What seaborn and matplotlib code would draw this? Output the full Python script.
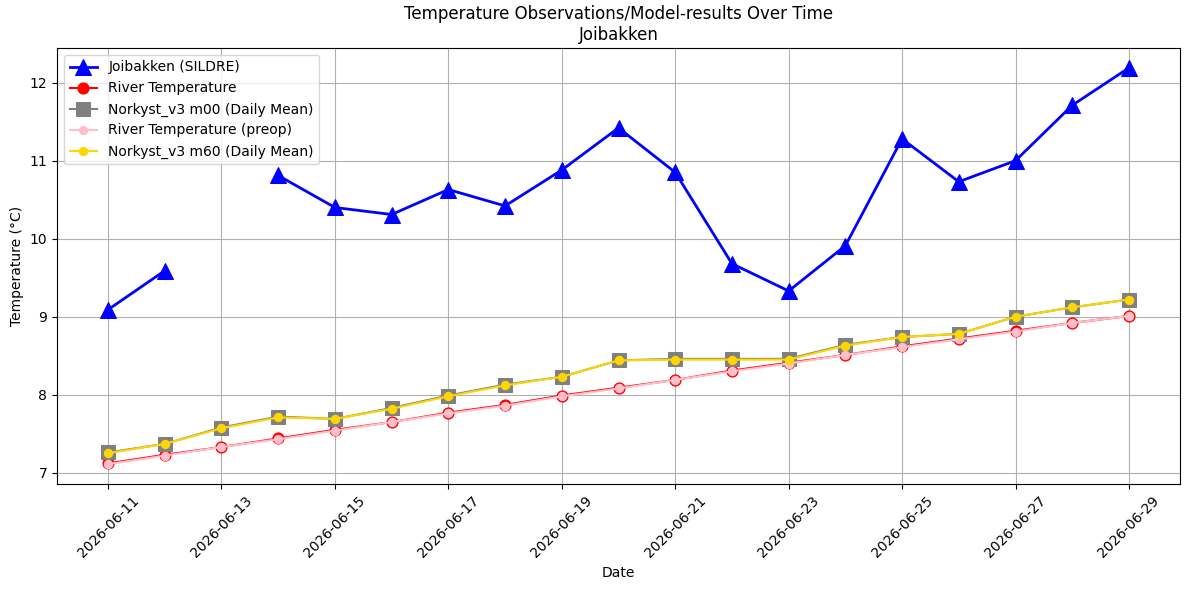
import numpy as np
import pandas as pd
import matplotlib
matplotlib.use("Agg")
import matplotlib.pyplot as plt
import matplotlib.dates as mdates
import seaborn as sns

dates = pd.date_range("2026-06-11", "2026-06-29", freq="D")
sildre = [9.09, 9.59, np.nan, 10.81, 10.40, 10.31, 10.63, 10.42, 10.88, 11.42,
          10.85, 9.68, 9.33, 9.91, 11.28, 10.73, 11.00, 11.71, 12.19]
river = [7.12, 7.23, 7.33, 7.44, 7.55, 7.65, 7.77, 7.87, 7.99, 8.09,
         8.19, 8.31, 8.41, 8.51, 8.62, 8.72, 8.82, 8.92, 9.01]
river_preop = [7.11, 7.22, 7.33, 7.43, 7.54, 7.65, 7.76, 7.86, 7.98, 8.08,
               8.19, 8.30, 8.40, 8.51, 8.61, 8.71, 8.81, 8.92, 9.01]
m00 = [7.26, 7.37, 7.58, 7.72, 7.69, 7.83, 7.99, 8.13, 8.23, 8.44,
       8.46, 8.46, 8.46, 8.64, 8.74, 8.78, 9.00, 9.12, 9.22]
m60 = [7.25, 7.37, 7.57, 7.71, 7.69, 7.82, 7.98, 8.12, 8.23, 8.44,
       8.45, 8.45, 8.45, 8.63, 8.74, 8.78, 9.00, 9.12, 9.22]

plt.style.use("default")
plt.rcParams['font.family'] = ['DejaVu Sans']

fig, ax = plt.subplots(figsize=(11.89, 5.9), dpi=100)
fig.subplots_adjust(left=57/1189, right=1180/1189, top=1-48/590, bottom=1-484/590)

df = pd.DataFrame({"date": dates, "sildre": sildre, "river": river,
                   "preop": river_preop, "m00": m00, "m60": m60})

# SILDRE in segments to keep gap
valid = df["sildre"].notna()
seg = (~valid).cumsum()
first = True
for _, g in df[valid].groupby(seg[valid]):
    sns.lineplot(data=g, x="date", y="sildre", ax=ax, color="blue", marker="^",
                 markersize=12, linewidth=2, markeredgecolor="blue",
                 label="Joibakken (SILDRE)" if first else None,
                 estimator=None, sort=False)
    first = False

sns.lineplot(data=df, x="date", y="river", ax=ax, color="red", marker="o",
             markersize=8, linewidth=1.5, markeredgecolor="red",
             label="River Temperature", estimator=None)
sns.lineplot(data=df, x="date", y="m00", ax=ax, color="gray", marker="s",
             markersize=10, linewidth=1.5, markeredgecolor="gray",
             label="Norkyst_v3 m00 (Daily Mean)", estimator=None)
sns.lineplot(data=df, x="date", y="preop", ax=ax, color="pink", marker="o",
             markersize=6, linewidth=1.5, markeredgecolor="pink",
             label="River Temperature (preop)", estimator=None)
sns.lineplot(data=df, x="date", y="m60", ax=ax, color="gold", marker="o",
             markersize=6, linewidth=1.5, markeredgecolor="gold",
             label="Norkyst_v3 m60 (Daily Mean)", estimator=None)

ax.set_title("Temperature Observations/Model-results Over Time\nJoibakken")
ax.set_xlabel("Date")
ax.set_ylabel("Temperature (°C)")
ax.set_xticks(dates[::2])
ax.xaxis.set_major_formatter(mdates.DateFormatter("%Y-%m-%d"))
ax.tick_params(axis="x", rotation=45)
ax.grid(True)
ax.legend(loc="upper left")
fig.savefig("out.png", dpi=100)
